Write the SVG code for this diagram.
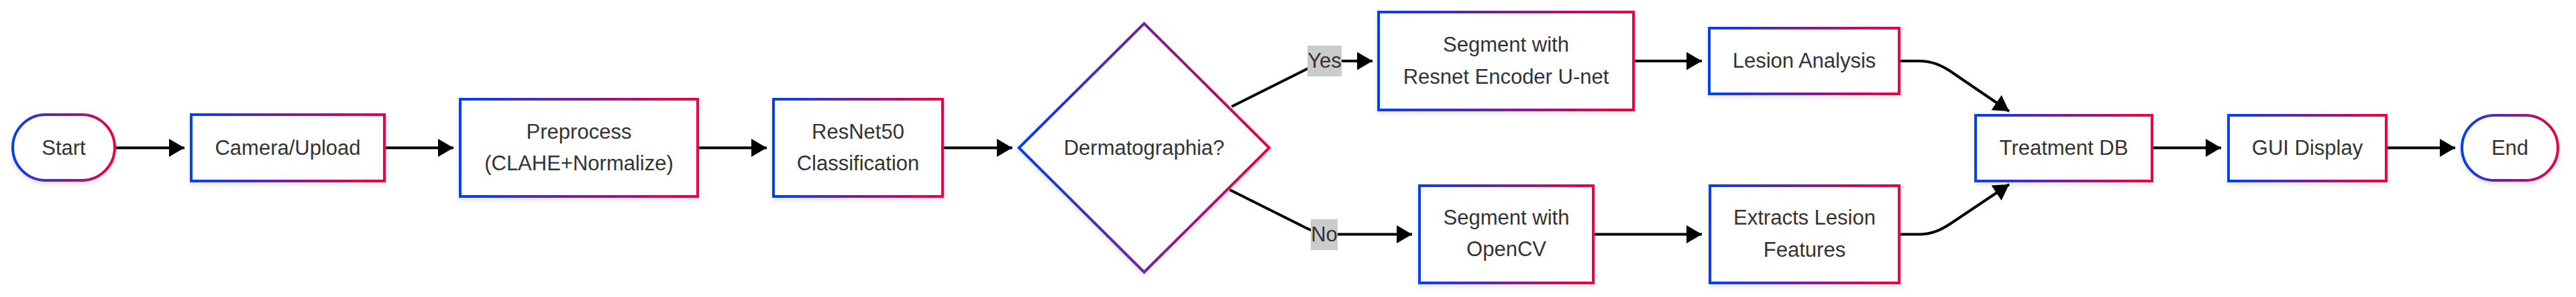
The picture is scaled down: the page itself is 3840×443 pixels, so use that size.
<svg xmlns="http://www.w3.org/2000/svg" width="3840" height="443" viewBox="0 0 3840 443">
<defs>
<linearGradient id="grad" x1="0" y1="0" x2="1" y2="0">
<stop offset="0" stop-color="#0040f0"/>
<stop offset="0.5" stop-color="#772098"/>
<stop offset="1" stop-color="#ee0044"/>
</linearGradient>
<filter id="sh" x="-10%" y="-10%" width="120%" height="130%">
<feDropShadow dx="0" dy="3" stdDeviation="3" flood-color="#000" flood-opacity="0.13"/>
</filter>
<marker id="arr" markerUnits="userSpaceOnUse" markerWidth="24" markerHeight="28" refX="23" refY="13.5" orient="auto">
<path d="M0,0 L23,13.5 L0,27 z" fill="#000"/>
</marker>
</defs>
<style>
.node{fill:#fff;stroke:url(#grad);stroke-width:4;filter:url(#sh)}
.lbl{font-family:"Liberation Sans",Arial,sans-serif;font-size:31px;fill:#333;text-anchor:middle}
.edge{fill:none;stroke:#000;stroke-width:4;marker-end:url(#arr)}
.ebg{fill:#cbcbcb}
</style>
<rect width="3840" height="443" fill="#fff"/>
<g id="connectors">
<path class="edge" d="M173,220.5 H275"/>
<path class="edge" d="M575,220.5 H676"/>
<path class="edge" d="M1042,220.5 H1143"/>
<path class="edge" d="M1407,220.5 H1509"/>
<path class="edge" d="M1836,159 L1950,102 C1962,96 1972,91 1990,91 H2046"/>
<path class="edge" d="M1833,283 L1945,339 C1957,345 1968,349.5 1990,349.5 H2105"/>
<path class="edge" d="M2437,91 H2537"/>
<path class="edge" d="M2377,349.5 H2537"/>
<path class="edge" d="M2833,91 H2860 C2880,91 2893,97 2907,106 L2995,166"/>
<path class="edge" d="M2833,349.5 H2860 C2880,349.5 2893,343 2907,334 L2995,275"/>
<path class="edge" d="M3210,220.5 H3311"/>
<path class="edge" d="M3559,220.5 H3660"/>
<g id="label-yes">
<rect class="ebg" x="1949" y="68" width="51" height="46"/>
<text class="lbl" x="1974.5" y="101">Yes</text>
</g>
<g id="label-no">
<rect class="ebg" x="1954" y="327" width="40" height="46"/>
<text class="lbl" x="1974" y="360">No</text>
</g>
</g>
<g id="start">
<rect class="node" x="19" y="171" width="152" height="98" rx="49"/>
<text class="lbl" x="95" y="231">Start</text>
</g>
<g id="camera">
<rect class="node" x="285" y="171" width="288" height="99"/>
<text class="lbl" x="429" y="231">Camera/Upload</text>
</g>
<g id="preprocess">
<rect class="node" x="686" y="148" width="354" height="145"/>
<text class="lbl" x="863" y="207">Preprocess</text>
<text class="lbl" x="863" y="254">(CLAHE+Normalize)</text>
</g>
<g id="resnet">
<rect class="node" x="1153" y="148" width="252" height="145"/>
<text class="lbl" x="1279" y="207">ResNet50</text>
<text class="lbl" x="1279" y="254">Classification</text>
</g>
<g id="decision">
<polygon class="node" points="1519,220.5 1705.5,35 1892,220.5 1705.5,406"/>
<text class="lbl" x="1705.5" y="231">Dermatographia?</text>
</g>
<g id="segment-unet">
<rect class="node" x="2055" y="18" width="380" height="146"/>
<text class="lbl" x="2245" y="77">Segment with</text>
<text class="lbl" x="2245" y="125">Resnet Encoder U-net</text>
</g>
<g id="lesion-analysis">
<rect class="node" x="2548" y="42" width="283" height="98"/>
<text class="lbl" x="2689.5" y="101">Lesion Analysis</text>
</g>
<g id="segment-opencv">
<rect class="node" x="2116" y="277" width="259" height="145"/>
<text class="lbl" x="2245.5" y="335">Segment with</text>
<text class="lbl" x="2245.5" y="382">OpenCV</text>
</g>
<g id="extracts">
<rect class="node" x="2549" y="277" width="282" height="145"/>
<text class="lbl" x="2690" y="335">Extracts Lesion</text>
<text class="lbl" x="2690" y="383">Features</text>
</g>
<g id="treatment">
<rect class="node" x="2945" y="172" width="263" height="98"/>
<text class="lbl" x="3076.5" y="231">Treatment DB</text>
</g>
<g id="gui">
<rect class="node" x="3322" y="172" width="235" height="98"/>
<text class="lbl" x="3439.5" y="231">GUI Display</text>
</g>
<g id="end">
<rect class="node" x="3670" y="172" width="143" height="97" rx="48.5"/>
<text class="lbl" x="3741.5" y="231">End</text>
</g>
</svg>
